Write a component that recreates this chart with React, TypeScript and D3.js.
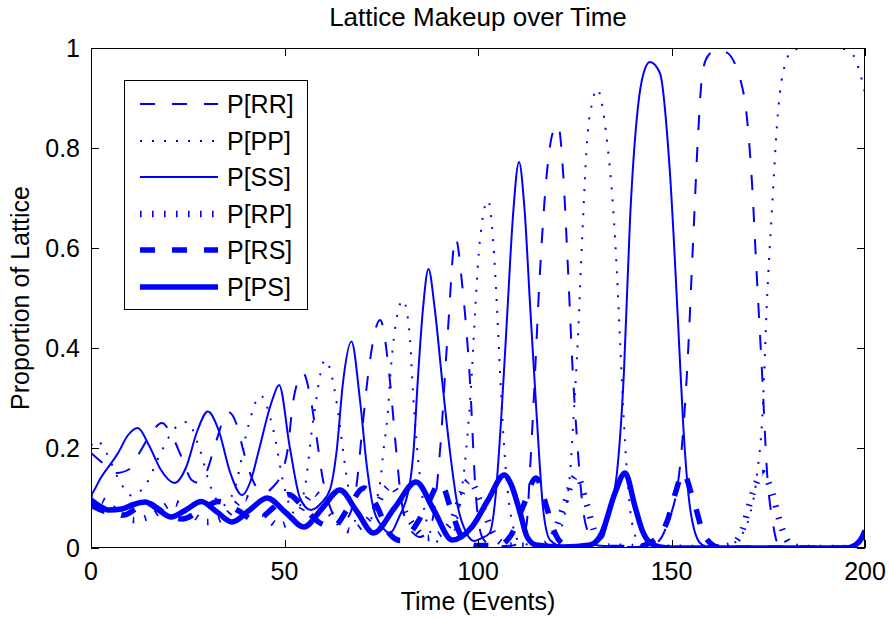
import React from "react";
import * as d3 from "d3";

// ---- data (time in events, proportion of lattice) ----
const xTicks = [0, 50, 100, 150, 200];
const yTicks = [0, 0.2, 0.4, 0.6, 0.8, 1];
const yTickLabels = ["0", "0.2", "0.4", "0.6", "0.8", "1"];
const seriesNames = ["P[RR]", "P[PP]", "P[SS]", "P[RP]", "P[RS]", "P[PS]"];

const RR: [number, number][] = [
  [0, 0.19], [3, 0.17], [6.5, 0.15], [10, 0.158], [12.5, 0.19], [15.2, 0.225], [18.3, 0.25], [21.2, 0.22],
  [23.5, 0.18], [26, 0.136], [28, 0.13], [30, 0.155], [32.2, 0.21], [35.5, 0.272], [37.5, 0.25], [39.2, 0.2],
  [40.8, 0.156], [42.7, 0.122], [44.7, 0.11], [47, 0.122], [49.3, 0.15], [50.8, 0.196], [52.3, 0.296],
  [54.8, 0.35], [56.8, 0.296], [58.4, 0.216], [59.8, 0.142], [61.2, 0.096], [63.5, 0.06], [66, 0.06],
  [68.5, 0.12], [70, 0.23], [71.5, 0.34], [74.7, 0.456], [77.3, 0.33], [78.8, 0.2], [80.3, 0.09],
  [82.3, 0.04], [85, 0.022], [88, 0.05], [90.2, 0.196], [92.1, 0.42], [94.2, 0.62], [96, 0.52],
  [97.8, 0.35], [99.5, 0.1], [101.2, 0.02], [104, 0.003], [109, 0.005], [111.5, 0.02], [112.6, 0.05],
  [113.4, 0.15], [114.3, 0.28], [116, 0.55], [117.8, 0.75], [119.3, 0.83], [120.7, 0.846], [122, 0.75],
  [123.3, 0.55], [124.5, 0.35], [125.6, 0.216], [127.1, 0.08], [128.5, 0.03], [131, 0.005], [140, 0.002],
  [146, 0.01], [149, 0.05], [152, 0.15], [154, 0.35], [155.6, 0.616], [156.8, 0.816], [158, 0.95],
  [159.5, 0.985], [161.8, 0.996], [164.5, 0.99], [166.3, 0.97], [167.7, 0.94], [169.5, 0.86], [170.8, 0.73],
  [172, 0.55], [173.4, 0.35], [174.7, 0.15], [176.2, 0.05], [177.3, 0.012], [180, 0], [200, 0],
];

const PP: [number, number][] = [
  [0, 0.205], [1.5, 0.215], [4, 0.19], [7, 0.14], [10.5, 0.105], [14, 0.125], [18, 0.19], [21.5, 0.238],
  [24.8, 0.252], [28, 0.2], [31, 0.12], [34, 0.085], [37, 0.115], [40.5, 0.24], [43.8, 0.305], [47, 0.24],
  [50, 0.12], [52.5, 0.07], [55, 0.11], [57.5, 0.26], [60.5, 0.376], [63.5, 0.29], [65.1, 0.196],
  [66.3, 0.13], [69, 0.045], [71.5, 0.045], [73.5, 0.09], [74.7, 0.13], [75.6, 0.196], [76.6, 0.262],
  [77.5, 0.36], [79, 0.46], [80.6, 0.496], [82.3, 0.43], [83.3, 0.3], [84.3, 0.196], [85.2, 0.13],
  [87, 0.045], [90, 0.012], [93, 0.02], [95.5, 0.1], [97, 0.2], [98.4, 0.35], [99.3, 0.48], [100.5, 0.616],
  [102.6, 0.695], [103.9, 0.616], [104.9, 0.482], [105.7, 0.35], [106.6, 0.22], [107.6, 0.12], [109, 0.045],
  [111, 0.01], [118, 0.003], [121, 0.03], [123.8, 0.15], [124.6, 0.25], [125.8, 0.416], [126.9, 0.616],
  [128.2, 0.816], [129.5, 0.89], [130.8, 0.918], [132, 0.89], [133.3, 0.816], [134.9, 0.682], [135.9, 0.55],
  [136.7, 0.416], [137.5, 0.282], [138.5, 0.15], [139.8, 0.05], [142, 0.006], [146, 0], [163, 0],
  [165, 0.004], [167, 0.016], [170, 0.06], [172, 0.14], [173.6, 0.282], [174.6, 0.482], [176, 0.682],
  [177.3, 0.85], [178.8, 0.95], [181.4, 0.996], [185, 1.0], [193, 1.0], [196.9, 0.986], [198.7, 0.95],
  [200, 0.91],
];

const SS: [number, number][] = [
  [0, 0.105], [1, 0.118], [2.5, 0.14], [4.5, 0.162], [7, 0.19], [9.5, 0.225], [12.1, 0.24], [15, 0.205],
  [18, 0.157], [21.6, 0.13], [24.5, 0.16], [27.5, 0.235], [30.2, 0.273], [33, 0.235], [36, 0.15],
  [39, 0.106], [41.5, 0.14], [43.2, 0.19], [46.8, 0.295], [48.6, 0.326], [51.4, 0.2], [54, 0.1],
  [56.8, 0.076], [59.5, 0.09], [61.8, 0.118], [63.5, 0.196], [65.1, 0.33], [67.3, 0.413], [69.5, 0.296],
  [71.3, 0.162], [72.9, 0.082], [75, 0.045], [77.3, 0.03], [79.5, 0.06], [82.4, 0.13], [83.4, 0.2],
  [84.4, 0.33], [85.8, 0.48], [87.2, 0.558], [88.8, 0.48], [90.8, 0.33], [92.8, 0.19], [94.6, 0.09],
  [97, 0.03], [99, 0.014], [101, 0.02], [103, 0.03], [104.5, 0.1], [106, 0.26], [107.5, 0.46], [109, 0.66],
  [110.6, 0.772], [112, 0.68], [113.5, 0.48], [115.2, 0.26], [116.8, 0.08], [118.6, 0.016], [122, 0.003],
  [128, 0.003], [132.3, 0.022], [134.1, 0.082], [135.9, 0.15], [137.7, 0.35], [139.3, 0.66], [141.3, 0.88],
  [142.8, 0.95], [144.4, 0.972], [147, 0.95], [149.6, 0.75], [151.7, 0.45], [153, 0.25], [154.8, 0.08],
  [157.4, 0.01], [160, 0], [200, 0],
];

const RP: [number, number][] = [
  [0, 0.1], [3, 0.095], [7, 0.072], [11, 0.056], [15.5, 0.064], [21.5, 0.09], [26, 0.068], [30, 0.052],
  [34.5, 0.062], [39.8, 0.1], [44, 0.073], [48.5, 0.045], [53, 0.062], [57.6, 0.11], [62, 0.068],
  [67, 0.035], [72, 0.06], [77.4, 0.125], [82, 0.06], [87, 0.02], [92.5, 0.045], [97.8, 0.135],
  [101.2, 0.08], [104.5, 0.022], [108, 0.005], [116, 0.004], [119, 0.02], [122, 0.08], [125.5, 0.145],
  [128, 0.09], [130.5, 0.025], [134, 0.003], [160, 0], [165, 0.005], [168, 0.03], [171, 0.11],
  [173.5, 0.15], [176, 0.11], [178.5, 0.04], [181, 0.005], [185, 0], [200, 0],
];

const RS: [number, number][] = [
  [0, 0.085], [4, 0.072], [8.5, 0.066], [11.5, 0.078], [14.5, 0.09], [19, 0.07], [23.5, 0.058], [28, 0.074],
  [33, 0.093], [38, 0.075], [42.5, 0.055], [47, 0.08], [51, 0.107], [55, 0.08], [58.8, 0.052],
  [62.5, 0.042], [66.5, 0.08], [70.5, 0.12], [73.8, 0.085], [77, 0.03], [80, 0.015], [83, 0.035],
  [86.5, 0.08], [90.3, 0.13], [93.5, 0.065], [96, 0.02], [99.5, 0.005], [105, 0.005], [108.5, 0.025],
  [111.6, 0.082], [115, 0.14], [117.8, 0.08], [119.6, 0.035], [122, 0.008], [126, 0.001], [140, 0.001],
  [145.7, 0.016], [149, 0.056], [151, 0.11], [153, 0.15], [155.5, 0.1], [158.7, 0.022], [162, 0.002],
  [166, 0], [200, 0],
];

const PS: [number, number][] = [
  [0, 0.096], [2, 0.085], [4.5, 0.076], [8, 0.078], [11, 0.087], [14, 0.092], [17.3, 0.077], [20.7, 0.062],
  [24.5, 0.076], [28.5, 0.093], [32.4, 0.073], [36.4, 0.052], [41, 0.076], [45.5, 0.1], [50.3, 0.071],
  [55, 0.042], [59.7, 0.079], [64.3, 0.116], [68.7, 0.073], [73, 0.03], [78.5, 0.081], [84, 0.132],
  [88.7, 0.074], [93.3, 0.016], [98.4, 0.042], [102.6, 0.096], [106.8, 0.146], [108.5, 0.128],
  [110.9, 0.07], [112.7, 0.022], [115, 0.006], [122, 0.002], [129, 0.006], [132, 0.03], [135.4, 0.11],
  [138, 0.15], [140.6, 0.082], [142.4, 0.036], [144, 0.014], [147, 0.002], [150, 0], [195, 0],
  [197.5, 0.006], [199, 0.018], [200, 0.035],
];

const allSeries = [RR, PP, SS, RP, RS, PS];

// ---- styles ----
const BLUE = "#0000ff";
const FONT = "'Liberation Sans', Arial, Helvetica, sans-serif";
const styles = [
  { w: 2, dash: "15,17" },
  { w: 2, dash: "2,10" },
  { w: 2, dash: "" },
  { w: 6.5, dash: "1.6,10.4" },
  { w: 5.5, dash: "15,17" },
  { w: 5.5, dash: "" },
];

const W = 889;
const H = 619;
const L = 91, R = 865, T = 48, B = 548;

export default function App() {
  const x = d3.scaleLinear().domain([0, 200]).range([L, R]);
  const y = d3.scaleLinear().domain([0, 1]).range([B, T]);
  const line = d3
    .line<[number, number]>()
    .x((d) => x(d[0]))
    .y((d) => y(d[1]))
    .curve(d3.curveMonotoneX);

  const tickLen = 8;
  const fs = 25;
  const legendRows = [104, 141, 177, 214, 250, 287];

  return (
    <svg
      width={W}
      height={H}
      style={{ position: "absolute", left: 0, top: 0, background: "#fff" }}
      fontFamily={FONT}
    >
      <rect x={0} y={0} width={W} height={H} fill="#fff" />
      <defs>
        <clipPath id="plotclip">
          <rect x={L} y={T} width={R - L} height={B - T} />
        </clipPath>
      </defs>
      <rect x={L} y={T} width={R - L} height={B - T} fill="#fff" />

      <g clipPath="url(#plotclip)">
        {allSeries.map((s, i) => (
          <path
            key={i}
            d={line(s) || ""}
            fill="none"
            stroke={BLUE}
            strokeWidth={styles[i].w}
            strokeDasharray={styles[i].dash || undefined}
            strokeLinejoin="round"
          />
        ))}
      </g>

      {/* axes box */}
      <rect x={L + 0.5} y={T + 0.5} width={R - L - 1} height={B - T - 1} fill="none" stroke="#000" strokeWidth={1} />

      {/* x ticks */}
      {xTicks.map((t) => {
        const px = Math.round(x(t)) + 0.5;
        return (
          <g key={"xt" + t}>
            <line x1={px} x2={px} y1={B} y2={B - tickLen} stroke="#000" />
            <line x1={px} x2={px} y1={T} y2={T + tickLen} stroke="#000" />
            <text x={x(t)} y={580} fontSize={fs} textAnchor="middle" fill="#000">
              {t}
            </text>
          </g>
        );
      })}

      {/* y ticks */}
      {yTicks.map((t, i) => {
        const py = Math.round(y(t)) + 0.5;
        return (
          <g key={"yt" + t}>
            <line x1={L} x2={L + tickLen} y1={py} y2={py} stroke="#000" />
            <line x1={R} x2={R - tickLen} y1={py} y2={py} stroke="#000" />
            <text x={80} y={y(t) + 9} fontSize={fs} textAnchor="end" fill="#000">
              {yTickLabels[i]}
            </text>
          </g>
        );
      })}

      {/* labels */}
      <text x={(L + R) / 2} y={26} fontSize={26} textAnchor="middle" fill="#000">
        Lattice Makeup over Time
      </text>
      <text x={(L + R) / 2} y={610} fontSize={fs} textAnchor="middle" fill="#000">
        Time (Events)
      </text>
      <text
        transform={`translate(29, ${(T + B) / 2}) rotate(-90)`}
        fontSize={fs}
        textAnchor="middle"
        fill="#000"
      >
        Proportion of Lattice
      </text>

      {/* legend */}
      <rect x={124.5} y={80.5} width={183} height={229} fill="#fff" stroke="#000" strokeWidth={1} />
      {seriesNames.map((name, i) => (
        <g key={name}>
          <line
            x1={140}
            x2={218}
            y1={legendRows[i]}
            y2={legendRows[i]}
            stroke={BLUE}
            strokeWidth={styles[i].w}
            strokeDasharray={styles[i].dash || undefined}
          />
          <text x={227} y={legendRows[i] + 9} fontSize={fs} fill="#000">
            {name}
          </text>
        </g>
      ))}
    </svg>
  );
}
